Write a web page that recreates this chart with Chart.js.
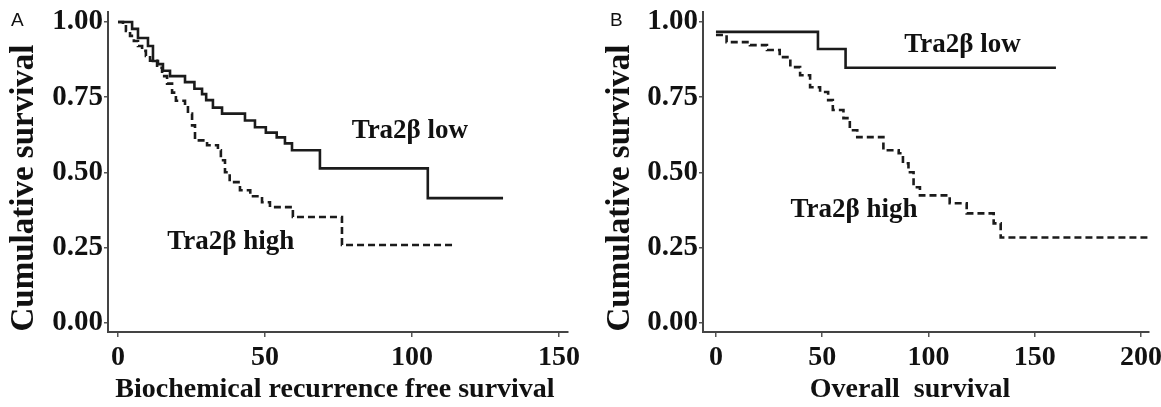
<!DOCTYPE html>
<html>
<head>
<meta charset="utf-8">
<script src="https://cdn.jsdelivr.net/npm/chart.js@4.4.1/dist/chart.umd.min.js"></script>
<style>
  html, body { margin: 0; padding: 0; background: #fff; }
  #wrap { position: relative; width: 1161px; height: 407px; overflow: hidden; }
  canvas { position: absolute; top: 0; }
</style>
</head>
<body>
<div id="wrap">
  <canvas id="chartA" width="580" height="407" style="left:0"></canvas>
  <canvas id="chartB" width="581" height="407" style="left:580px"></canvas>
</div>
<script>
// Panel A: biochemical recurrence free survival
const timeA_low = [0, 4.8, 6.8, 10.2, 11.9, 13.6, 15.3, 17.7, 22.8, 26, 28.6, 30, 32.3, 35.4, 43.2, 46.6, 50.3, 54, 56.8, 59.2, 68.7, 105.4, 131];
const survA_low = [1, 0.977, 0.947, 0.92, 0.87, 0.86, 0.838, 0.82, 0.8, 0.778, 0.76, 0.74, 0.715, 0.695, 0.672, 0.65, 0.632, 0.616, 0.596, 0.573, 0.513, 0.414, 0.414];
const timeA_high = [0, 1.7, 2.7, 4.1, 5.4, 6.8, 8.2, 9.5, 10.9, 13.3, 15, 16.7, 18.4, 19.7, 22.8, 23.8, 25.2, 26.2, 30.3, 34, 35, 36.4, 38, 41.5, 45, 49, 51.7, 59.5, 76.2, 114.6];
const survA_high = [1, 0.99, 0.97, 0.954, 0.937, 0.92, 0.904, 0.887, 0.871, 0.848, 0.82, 0.795, 0.765, 0.738, 0.722, 0.695, 0.656, 0.606, 0.59, 0.573, 0.54, 0.5, 0.467, 0.44, 0.42, 0.4, 0.384, 0.351, 0.258, 0.258];

// Panel B: overall survival
const timeB_low = [0, 48, 61, 160];
const survB_low = [0.967, 0.91, 0.848, 0.848];
const timeB_high = [0, 5, 16, 24, 30, 35, 39.6, 44.3, 49, 52.8, 55, 60, 63, 66.5, 78.8, 86, 88, 90.6, 93, 96, 110, 118, 130.7, 134, 204];
const survB_high = [0.957, 0.933, 0.923, 0.907, 0.883, 0.85, 0.823, 0.783, 0.767, 0.74, 0.707, 0.68, 0.64, 0.617, 0.573, 0.563, 0.53, 0.5, 0.45, 0.423, 0.397, 0.363, 0.33, 0.283, 0.283];

const yTicks = [0, 0.25, 0.5, 0.75, 1];
const xTicksA = [0, 50, 100, 150];
const xTicksB = [0, 50, 100, 150, 200];

const SERIF = '"Liberation Serif", "Times New Roman", serif';

const toPoints = (ts, ss) => ts.map((t, i) => ({ x: t, y: ss[i] }));

// titles, panel letter and group labels
const textPlugin = {
  id: 'texts',
  afterDraw(chart, args, opts) {
    const ctx = chart.ctx;
    const xs = chart.scales.x, ys = chart.scales.y;
    ctx.save();
    ctx.fillStyle = '#111';

    ctx.font = '19px "Liberation Sans", Arial, sans-serif';
    ctx.textAlign = 'left';
    ctx.textBaseline = 'top';
    ctx.fillText(opts.letter, opts.letterX, 11);

    ctx.save();
    ctx.translate(opts.yTitleX, 188);
    ctx.rotate(-Math.PI / 2);
    ctx.font = 'bold 33px ' + SERIF;
    ctx.textAlign = 'center';
    ctx.textBaseline = 'middle';
    ctx.fillText('Cumulative survival', 0, 0);
    ctx.restore();

    ctx.font = 'bold 28px ' + SERIF;
    ctx.textAlign = 'center';
    ctx.textBaseline = 'alphabetic';
    ctx.fillText(opts.xTitle, opts.xTitleX, 397);

    ctx.font = 'bold 27px ' + SERIF;
    ctx.textBaseline = 'middle';
    opts.notes.forEach(n => {
      ctx.fillText(n.text, xs.getPixelForValue(n.t), ys.getPixelForValue(n.s));
    });
    ctx.restore();
  }
};

function makeChart(id, cfg) {
  return new Chart(document.getElementById(id), {
    type: 'line',
    data: {
      datasets: [
        {
          data: toPoints(cfg.lowT, cfg.lowS),
          borderColor: '#1b1b1b',
          borderWidth: 2.6,
          stepped: 'before',
          pointRadius: 0,
          fill: false
        },
        {
          data: toPoints(cfg.highT, cfg.highS),
          borderColor: '#1b1b1b',
          borderWidth: 2.6,
          borderDash: [7, 4],
          stepped: 'before',
          pointRadius: 0,
          fill: false
        }
      ]
    },
    options: {
      responsive: false,
      animation: false,
      devicePixelRatio: 1,
      layout: { padding: { left: 0, top: 12, right: 12, bottom: 0 } },
      plugins: {
        legend: { display: false },
        tooltip: { enabled: false },
        texts: cfg.texts
      },
      scales: {
        x: {
          type: 'linear',
          min: cfg.xMin,
          max: cfg.xMax,
          afterBuildTicks: s => { s.ticks = cfg.xTicks.map(v => ({ value: v })); },
          afterFit: s => { s.height = 75; s.paddingLeft = 0; s.paddingRight = 0; },
          ticks: {
            autoSkip: false,
            maxRotation: 0,
            padding: 4,
            color: '#111',
            font: { family: SERIF, size: 28, weight: 'bold' },
            callback: v => String(v)
          },
          grid: { drawOnChartArea: false, drawTicks: true, tickLength: 5, color: '#555', lineWidth: 1.5 },
          border: { display: true, color: '#444', width: 2 }
        },
        y: {
          type: 'linear',
          min: -0.0316,
          max: 1.0333,
          afterBuildTicks: s => { s.ticks = yTicks.map(v => ({ value: v })); },
          afterFit: s => { s.width = cfg.yWidth; s.paddingTop = 0; s.paddingBottom = 0; },
          ticks: {
            padding: 1,
            color: '#111',
            font: { family: SERIF, size: 29, weight: 'bold' },
            callback: v => Number(v).toFixed(2)
          },
          grid: { drawOnChartArea: false, drawTicks: true, tickLength: 4, color: '#555', lineWidth: 1.5 },
          border: { display: true, color: '#444', width: 2 }
        }
      }
    },
    plugins: [textPlugin]
  });
}

makeChart('chartA', {
  lowT: timeA_low, lowS: survA_low,
  highT: timeA_high, highS: survA_high,
  xMin: -3.4, xMax: 153.1, xTicks: xTicksA, yWidth: 108,
  texts: {
    letter: 'A', letterX: 11, yTitleX: 24,
    xTitle: 'Biochemical recurrence free survival', xTitleX: 335,
    notes: [
      { text: 'Tra2β low', t: 99.3, s: 0.637 },
      { text: 'Tra2β high', t: 38.4, s: 0.268 }
    ]
  }
});

makeChart('chartB', {
  lowT: timeB_low, lowS: survB_low,
  highT: timeB_high, highS: survB_high,
  xMin: -6.1, xMax: 203.8, xTicks: xTicksB, yWidth: 123,
  texts: {
    letter: 'B', letterX: 30, yTitleX: 40,
    xTitle: 'Overall  survival', xTitleX: 330,
    notes: [
      { text: 'Tra2β low', t: 116, s: 0.923 },
      { text: 'Tra2β high', t: 65, s: 0.374 }
    ]
  }
});
</script>
</body>
</html>
